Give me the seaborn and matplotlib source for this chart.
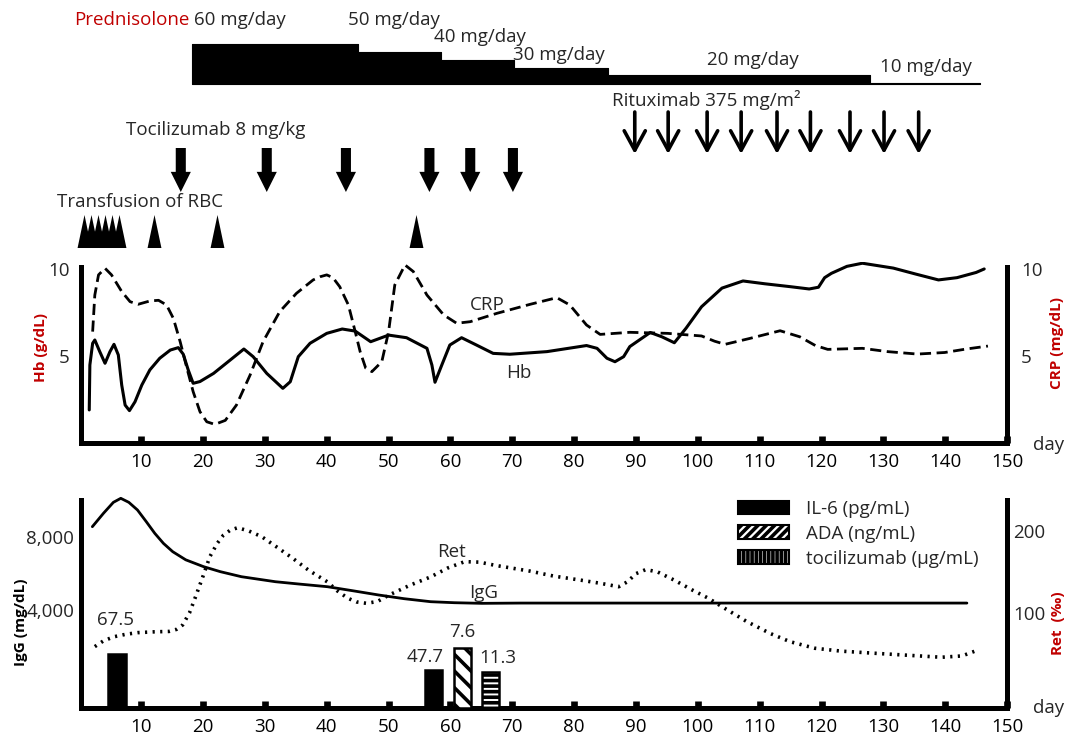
import matplotlib
matplotlib.use("Agg")
import matplotlib.pyplot as plt
from matplotlib.patches import Patch
import seaborn as sns

# ---- values ----
hb_day = [1.6, 1.7, 2.15, 2.5, 3.3, 4.15, 4.95, 5.6, 6.3, 6.85, 7.4, 8.1, 9.0, 10.1,
          11.4, 13.0, 14.7, 16.0, 16.8, 17.6, 18.4, 19.5, 21.7, 24.4, 26.6, 28.1, 30.3,
          32.9, 34.1, 35.4, 37.3, 40.0, 42.5, 44.6, 47.1, 50.0, 52.9, 56.2, 57.0, 57.5,
          58.6, 59.9, 61.8, 64.2, 66.9, 69.6, 75.6, 82.0, 83.7, 85.3, 86.6, 88.0, 89.0,
          92.3, 94.2, 96.2, 98.1, 100.6, 103.9, 107.3, 110.8, 115.0, 118.0, 119.5, 120.5,
          121.6, 124.1, 126.6, 131.6, 135.3, 138.9, 141.9, 145.0, 146.3]
hb = [1.9, 4.48, 5.73, 5.92, 5.25, 4.58, 5.25, 5.67, 5.06, 3.33, 2.18, 1.86, 2.37, 3.33,
      4.2, 4.87, 5.34, 5.48, 5.1, 4.2, 3.43, 3.53, 4.0, 4.77, 5.4, 4.96, 4.0,
      3.14, 3.52, 4.96, 5.73, 6.3, 6.55, 6.43, 5.82, 6.2, 6.05, 5.44, 4.48, 3.49,
      4.48, 5.63, 6.05, 5.63, 5.15, 5.1, 5.25, 5.6, 5.44, 4.87, 4.67, 4.96, 5.54,
      6.35, 6.1, 5.76, 6.6, 7.83, 8.9, 9.31, 9.15, 8.98, 8.85, 8.95, 9.5,
      9.75, 10.15, 10.33, 10.05, 9.7, 9.37, 9.5, 9.8, 10.0]

crp_day = [2.15, 2.5, 3.1, 4.15, 5.2, 6.85, 8.2, 9.5, 11.4, 12.8, 14.1, 15.2, 16.3, 17.4,
           18.4, 19.5, 20.6, 21.9, 23.6, 25.4, 27.6, 29.7, 32.4, 35.1, 37.8, 38.9, 40.0,
           41.0, 42.1, 43.5, 44.6, 45.4, 46.3, 47.3, 48.9, 50.0, 51.0, 52.65, 54.0, 56.2,
           58.9, 61.0, 63.2, 67.5, 72.9, 77.2, 79.3, 82.0, 84.2, 89.0, 95.1, 100.6, 102.7,
           104.4, 108.3, 113.3, 116.5, 119.0, 121.0, 126.6, 130.7, 135.5, 139.9, 143.4,
           146.9]
crp = [6.4, 8.5, 9.66, 10.04, 9.66, 8.7, 8.12, 7.97, 8.16, 8.2, 7.93, 7.16, 5.82, 4.29,
       2.95, 1.8, 1.22, 1.07, 1.3, 2.18, 3.9, 5.82, 7.55, 8.6, 9.37, 9.55, 9.66,
       9.5, 8.98, 7.93, 6.4, 5.25, 4.3, 4.1, 4.67, 6.4, 9.08, 10.23, 9.85, 8.5,
       7.36, 6.88, 6.97, 7.45, 7.97, 8.35, 7.93, 6.78, 6.24, 6.36, 6.3, 6.15, 5.85,
       5.67, 6.0, 6.45, 6.1, 5.6, 5.38, 5.44, 5.25, 5.11, 5.2, 5.4,
       5.57]

igg_day = [2.1, 3.9, 5.5, 6.7, 8.0, 9.4, 10.8, 12.2, 13.6, 15.1, 17.2, 20.1, 22.8, 26.2,
           31.7, 35.6, 40.1, 44.3, 48.4, 52.5, 56.8, 60.6, 65.1, 71.4, 143.5]
igg = [8565, 9300, 9900, 10120, 9900, 9480, 8850, 8200, 7650, 7195, 6750, 6373, 6100, 5825,
       5550, 5420, 5277, 5050, 4822, 4620, 4455, 4400, 4365, 4380, 4380]

ret_day = [2.5, 3.9, 5.6, 7.5, 9.4, 12.1, 14.5, 15.7, 16.7, 17.8, 18.8, 20.0, 21.1, 22.3,
           23.3, 24.4, 25.6, 27.4, 29.5, 32.0, 34.5, 37.1, 40.1, 41.7, 43.4, 44.8, 46.4,
           48.2, 50.1, 53.5, 56.8, 59.6, 62.3, 64.7, 67.3, 72.9, 76.7, 81.1, 84.4, 87.2,
           88.6, 90.0, 91.6, 93.5, 96.2, 99.1, 101.7, 103.9, 107.8, 111.7, 114.9, 118.9,
           123.1, 128.3, 133.8, 139.4, 142.7, 145.0]
ret = [59, 66, 71, 74, 76, 77, 77.5, 80, 85.4, 100, 120, 145, 168.7, 185,
       195, 201, 204, 200, 193, 180, 166.7, 152, 138, 127, 118, 113.5, 111.8,
       114, 122, 134, 144, 155, 162.6, 162, 158, 151, 145, 140, 136, 132,
       138, 148, 153, 150, 140, 128, 118, 107.7, 90, 75, 65, 57,
       53.5, 51, 48.5, 46, 47.6, 54]

pred_start = [18.2, 45.1, 58.4, 70.2, 85.5, 127.8]
pred_stop = 145.6
pred_dose = [60, 50, 40, 30, 20, 10]

toci_days = [16.4, 30.3, 43.1, 56.6, 63.2, 70.1]
ritux_days = [89.8, 95.2, 101.5, 107.0, 112.8, 118.2, 124.6, 130.1, 135.7]
rbc_days = [0.8, 1.9, 3.0, 4.2, 5.3, 6.4, 12.1, 22.2, 54.4]

bar_measure = ["IL-6", "IL-6", "ADA", "tocilizumab"]
bar_day = [6.1, 57.3, 61.9, 66.5]
bar_value = [67.5, 47.7, 7.6, 11.3]

day_ticks = list(range(10, 151, 10))

# ---- styling / layout ----
RED = "#C00000"
FS = 13.5
LFS = 11
bar_scale = {"IL-6": 0.8, "ADA": 7.9, "tocilizumab": 3.2}
bar_hatch = {"IL-6": None, "ADA": "\\\\", "tocilizumab": "---"}
bar_face = {"IL-6": "black", "ADA": "white", "tocilizumab": "white"}
bar_label_xy = [(5.8, 88), (55.9, 51), (61.9, 76), (67.6, 50)]

sns.set_theme(style="white")
plt.rcParams["font.family"] = ["Open Sans", "DejaVu Sans"]
plt.rcParams["hatch.linewidth"] = 2.6
plt.rcParams["hatch.color"] = "black"

fig = plt.figure(figsize=(10.68, 7.38), dpi=100)
W, H = 1068, 738
X0, XW = 79.35 / W, 927.75 / W

ax_t = fig.add_axes([X0, 1 - 255 / H, XW, 255 / H])
ax_h = fig.add_axes([X0, 1 - 443 / H, XW, 181 / H])
ax_c = ax_h.twinx()
ax_b = fig.add_axes([X0, 1 - 708 / H, XW, 213 / H])
ax_r = ax_b.twinx()
ax_bar = ax_b.twinx()

# ---- treatment timeline (y runs top-down) ----
ax_t.set_xlim(0, 150)
ax_t.set_ylim(255, 0)
ax_t.axis("off")

edges = pred_start + [pred_stop]
band_top = [84 - 0.78 * (d - 9) for d in pred_dose]
ax_t.fill_between(edges, 84, band_top + [band_top[-1]], step="post",
                  color="black", lw=0.8)

ax_t.text(-0.9, 20, "Prednisolone", color=RED, fontsize=FS, va="center")
dose_label_xy = [(18.6, 20), (43.4, 20), (57.4, 37), (70.1, 55), (101.4, 60), (129.4, 67)]
for d, (x, y) in zip(pred_dose, dose_label_xy):
    ax_t.text(x, y, f"{d} mg/day", fontsize=FS, va="center")

ax_t.text(86.2, 100, "Rituximab 375 mg/m²", fontsize=FS, va="center")
for d in ritux_days:
    ax_t.annotate("", xy=(d, 154), xytext=(d, 112),
                  arrowprops=dict(arrowstyle="->,head_length=0.7,head_width=0.38",
                                  mutation_scale=20, lw=2.6, color="black",
                                  shrinkA=0, shrinkB=0))

ax_t.text(7.5, 130, "Tocilizumab 8 mg/kg", fontsize=FS, va="center")
for d in toci_days:
    ax_t.annotate("", xy=(d, 192), xytext=(d, 148),
                  arrowprops=dict(arrowstyle="simple,head_length=1.0,head_width=1.0,tail_width=0.5",
                                  mutation_scale=14.5, fc="black", ec="black", lw=0,
                                  shrinkA=0, shrinkB=0))

ax_t.text(-3.65, 202, "Transfusion of RBC", fontsize=FS, va="center")
tri = [(-0.21, -0.5), (0.21, -0.5), (0, 0.5)]
ax_t.scatter(rbc_days, [231.5] * len(rbc_days), marker=tri, s=565, color="black",
             linewidths=0, clip_on=False)

# ---- Hb / CRP panel ----
sns.lineplot(x=hb_day, y=hb, ax=ax_h, color="black", lw=2.2, estimator=None,
             solid_joinstyle="round")
sns.lineplot(x=crp_day, y=crp, ax=ax_c, color="black", lw=2.0, ls=(0, (4, 2)),
             estimator=None, dash_joinstyle="round")
ax_h.text(65.9, 7.93, "CRP", fontsize=FS, ha="center", va="center")
ax_h.text(71.0, 4.0, "Hb", fontsize=FS, ha="center", va="center")

# ---- IgG / Ret panel ----
sns.lineplot(x=igg_day, y=igg, ax=ax_b, color="black", lw=2.0, estimator=None,
             solid_joinstyle="round")
sns.lineplot(x=ret_day, y=ret, ax=ax_r, color="black", lw=2.6, ls=(0, (0.6, 1.5)),
             estimator=None)
ax_b.text(60.1, 7178, "Ret", fontsize=FS, ha="center", va="center")
ax_b.text(65.4, 4932, "IgG", fontsize=FS, ha="center", va="center")

ax_bar.set_ylim(0, 213)
ax_bar.axis("off")
for m, d, v, (lx, ly) in zip(bar_measure, bar_day, bar_value, bar_label_xy):
    ax_bar.bar(d, v * bar_scale[m], width=2.8, color=bar_face[m], edgecolor="black",
               hatch=bar_hatch[m], lw=1.8)
    ax_bar.text(lx, ly, f"{v}", fontsize=FS, ha="center", va="center")

handles = [Patch(facecolor="black", edgecolor="black", lw=1.5),
           Patch(facecolor="white", edgecolor="black", hatch="////", lw=1.5),
           Patch(facecolor="white", edgecolor="black", hatch="||||", lw=1.5)]
ax_bar.legend(handles, ["IL-6 (pg/mL)", "ADA (ng/mL)", "tocilizumab (µg/mL)"],
              loc="upper left", bbox_to_anchor=(738 / W, 1 - 500 / H),
              bbox_transform=fig.transFigure, frameon=False, fontsize=FS,
              borderpad=0, borderaxespad=0, handlelength=2.7, handleheight=0.76,
              handletextpad=0.92, labelspacing=0.36)

# ---- axes cosmetics ----
SPW = 3.6
for ax, lo, hi in [(ax_h, 0, 10.4), (ax_c, 0, 10.4), (ax_b, -1370, 10302), (ax_r, -15.9, 243.9)]:
    ax.set_xlim(0, 150)
    ax.set_ylim(lo, hi)
    ax.set_xlabel("")
    ax.set_ylabel("")
    for s in ax.spines.values():
        s.set_visible(False)
        s.set_linewidth(SPW)
        s.set_color("black")
        s.set_capstyle("projecting")

for ax, top in [(ax_h, 10.1), (ax_b, 10030)]:
    ax.spines["left"].set_visible(True)
    ax.spines["left"].set_position(("data", 0.3))
    ax.spines["left"].set_bounds(ax.get_ylim()[0], top)
    ax.spines["bottom"].set_visible(True)
    ax.spines["bottom"].set_bounds(0.3, 150)
    ax.set_xticks(day_ticks)
    ax.set_xticklabels([str(t) for t in day_ticks])
    ax.tick_params(axis="x", bottom=True, direction="in", length=4.7, width=4.8,
                   labelsize=FS, pad=7, colors="black")
    ax.tick_params(axis="y", left=True, length=0, labelsize=FS)

for ax, top in [(ax_c, 10.1), (ax_r, 237.8)]:
    ax.spines["right"].set_visible(True)
    ax.spines["right"].set_bounds(ax.get_ylim()[0], top)
    ax.tick_params(axis="y", right=True, length=0, labelsize=FS)

ax_h.set_yticks([5, 10])
ax_h.set_yticklabels(["5", "10"])
ax_h.tick_params(axis="y", pad=8.5)
ax_c.set_yticks([5, 10])
ax_c.set_yticklabels(["5", "10"])
ax_c.tick_params(axis="y", pad=10)
ax_b.set_yticks([4000, 8000])
ax_b.set_yticklabels(["4,000", "8,000"])
ax_b.tick_params(axis="y", pad=5)
ax_r.set_yticks([100, 200])
ax_r.set_yticklabels(["100", "200"])
ax_r.tick_params(axis="y", pad=4.3)

for y in (445, 708):
    fig.text(1049 / W, 1 - y / H, "day", fontsize=FS, ha="center", va="center")

fig.text(41.3 / W, 1 - 348 / H, "Hb (g/dL)", rotation=90, color=RED, fontsize=LFS,
         fontweight="bold", ha="center", va="center")
fig.text(1057 / W, 1 - 343 / H, "CRP (mg/dL)", rotation=90, color=RED, fontsize=LFS,
         fontweight="bold", ha="center", va="center")
fig.text(20.7 / W, 1 - 622 / H, "IgG (mg/dL)", rotation=90, color="black", fontsize=LFS,
         fontweight="bold", ha="center", va="center")
fig.text(1058 / W, 1 - 623 / H, "Ret  (‰)", rotation=90, color=RED, fontsize=LFS,
         fontweight="bold", ha="center", va="center")

fig.savefig("out.png", dpi=100)
